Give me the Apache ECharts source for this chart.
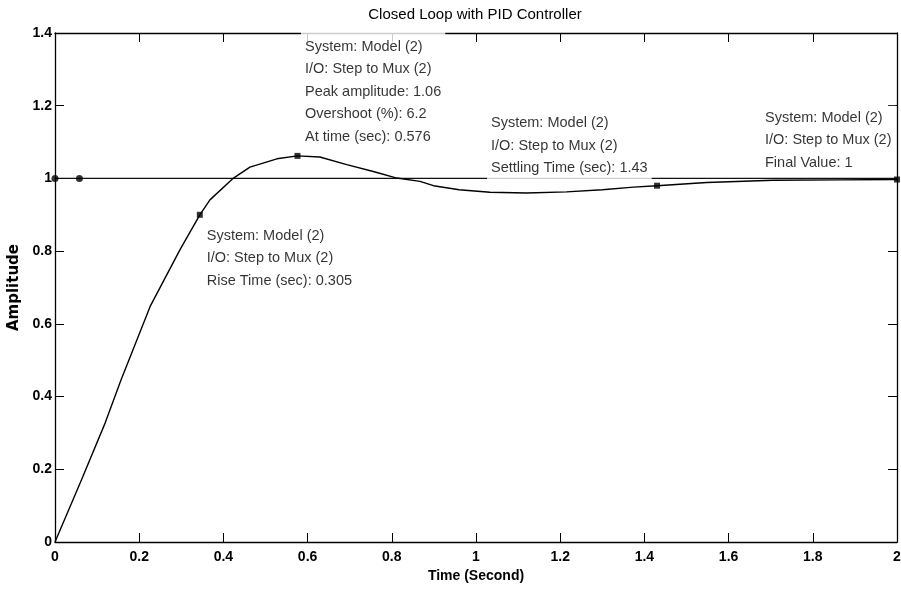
<!DOCTYPE html>
<html>
<head>
<meta charset="utf-8">
<script src="https://cdn.jsdelivr.net/npm/echarts@6/dist/echarts.min.js"></script>
<style>
html,body{margin:0;padding:0;background:#fff;}
#chart{width:901px;height:592px;}
</style>
</head>
<body>
<div id="chart"></div>
<script>
// ---- data ----
const titleText = 'Closed Loop with PID Controller';
const xName = 'Time (Second)';
const yName = 'Amplitude';
const xTickLabels = ['0','0.2','0.4','0.6','0.8','1','1.2','1.4','1.6','1.8','2'];
const yTickLabels = ['0','0.2','0.4','0.6','0.8','1','1.2','1.4'];

const time = [0, 0.063, 0.119, 0.157, 0.226, 0.297, 0.344, 0.368, 0.424, 0.463, 0.527, 0.576, 0.629, 0.693, 0.756, 0.812, 0.867, 0.899, 0.96, 1.033, 1.12, 1.215, 1.30, 1.374, 1.43, 1.548, 1.706, 1.865, 2.0];
const amplitude = [0, 0.171, 0.327, 0.446, 0.648, 0.804, 0.90, 0.941, 1.001, 1.031, 1.054, 1.062, 1.059, 1.038, 1.019, 1.001, 0.992, 0.980, 0.969, 0.962, 0.960, 0.963, 0.969, 0.976, 0.980, 0.989, 0.995, 0.996, 0.997];

const refLineTimes = [0, 2];
const refLineValues = [1, 1];
const refDotTimes = [0, 0.058];
const refDotValues = [1, 1];

const markerTimes = [0.344, 0.576, 1.43, 2.0];
const markerValues = [0.90, 1.062, 0.98, 0.997];
const markerTexts = [
  'System: Model (2)\nI/O: Step to Mux (2)\nRise Time (sec): 0.305',
  'System: Model (2)\nI/O: Step to Mux (2)\nPeak amplitude: 1.06\nOvershoot (%): 6.2\nAt time (sec): 0.576',
  'System: Model (2)\nI/O: Step to Mux (2)\nSettling Time (sec): 1.43',
  'System: Model (2)\nI/O: Step to Mux (2)\nFinal Value: 1'
];

// ---- styling / layout ----
const labelFont = "'Liberation Sans', Arial, sans-serif";
const labelOffsets = [[5.9, 11.9], [6.5, -125.2], [-167, -71.5], [-133, -70.8]];
const labelPads = [[1,4,1,4],[8,4,1,4],[1,4,4,4],[1,4,1,4]];

const chart = echarts.init(document.getElementById('chart'), null, {renderer:'canvas'});

const axisCommon = {
  type: 'value',
  axisLine: {show: true, onZero: false, lineStyle: {color: '#000', width: 1.3}},
  axisTick: {show: true, inside: true, length: 9, lineStyle: {color: '#000', width: 1}},
  splitLine: {show: false}
};

const option = {
  backgroundColor: '#fff',
  animation: false,
  title: {
    text: titleText,
    left: 470, top: 2, textAlign: 'center',
    textStyle: {fontFamily: labelFont, fontSize: 15, fontWeight: 'normal', color: '#000'}
  },
  grid: {left: 55, right: 4, top: 33, bottom: 50, containLabel: false, outerBoundsMode: 'none'},
  xAxis: [
    Object.assign({}, axisCommon, {
      min: 0, max: 2, interval: 0.2, position: 'bottom',
      name: xName, nameLocation: 'middle', nameGap: 22,
      nameTextStyle: {fontFamily: labelFont, fontSize: 14, fontWeight: 'bold', color: '#000'},
      axisLabel: {margin: 8, color: '#000', fontFamily: labelFont, fontSize: 14, fontWeight: 'bold',
        formatter: v => xTickLabels[Math.round(v / 0.2)]}
    }),
    Object.assign({}, axisCommon, {
      min: 0, max: 2, interval: 0.2, position: 'top', axisLabel: {show: false}
    })
  ],
  yAxis: [
    Object.assign({}, axisCommon, {
      min: 0, max: 1.4, interval: 0.2, position: 'left',
      name: yName, nameLocation: 'middle', nameGap: 21,
      nameTextStyle: {fontFamily: "'DejaVu Sans', sans-serif", fontSize: 15, fontWeight: 'bold', color: '#000'},
      axisLabel: {margin: 3, color: '#000', fontFamily: labelFont, fontSize: 14, fontWeight: 'bold',
        formatter: v => yTickLabels[Math.round(v / 0.2)]}
    }),
    Object.assign({}, axisCommon, {
      min: 0, max: 1.4, interval: 0.2, position: 'right', axisLabel: {show: false}
    })
  ],
  series: [
    {
      type: 'line', name: 'ref', xAxisIndex: 0, yAxisIndex: 0,
      data: refLineTimes.map((t, i) => [t, refLineValues[i]]),
      showSymbol: false, lineStyle: {color: '#111', width: 1.2}, z: 1
    },
    {
      type: 'line', name: 'response', xAxisIndex: 0, yAxisIndex: 0,
      data: time.map((t, i) => [t, amplitude[i]]),
      showSymbol: false, smooth: false, lineStyle: {color: '#000', width: 1.4}, z: 2
    },
    {
      type: 'scatter', name: 'refdots', xAxisIndex: 0, yAxisIndex: 0,
      data: refDotTimes.map((t, i) => [t, refDotValues[i]]),
      symbol: 'circle', symbolSize: 7, itemStyle: {color: '#000'}, z: 3
    },
    {
      type: 'scatter', name: 'markers', xAxisIndex: 0, yAxisIndex: 0,
      data: markerTimes.map((t, i) => ({
        value: [t, markerValues[i]],
        label: {
          show: true,
          formatter: markerTexts[i],
          position: labelOffsets[i],
          align: 'left', verticalAlign: 'top',
          padding: labelPads[i],
          backgroundColor: '#fff',
          color: '#000',
          fontFamily: labelFont, fontSize: 14.5, lineHeight: 22.5
        }
      })),
      symbol: 'rect', symbolSize: 6, itemStyle: {color: '#000'}, z: 4
    }
  ]
};
chart.setOption(option);
</script>
</body>
</html>
